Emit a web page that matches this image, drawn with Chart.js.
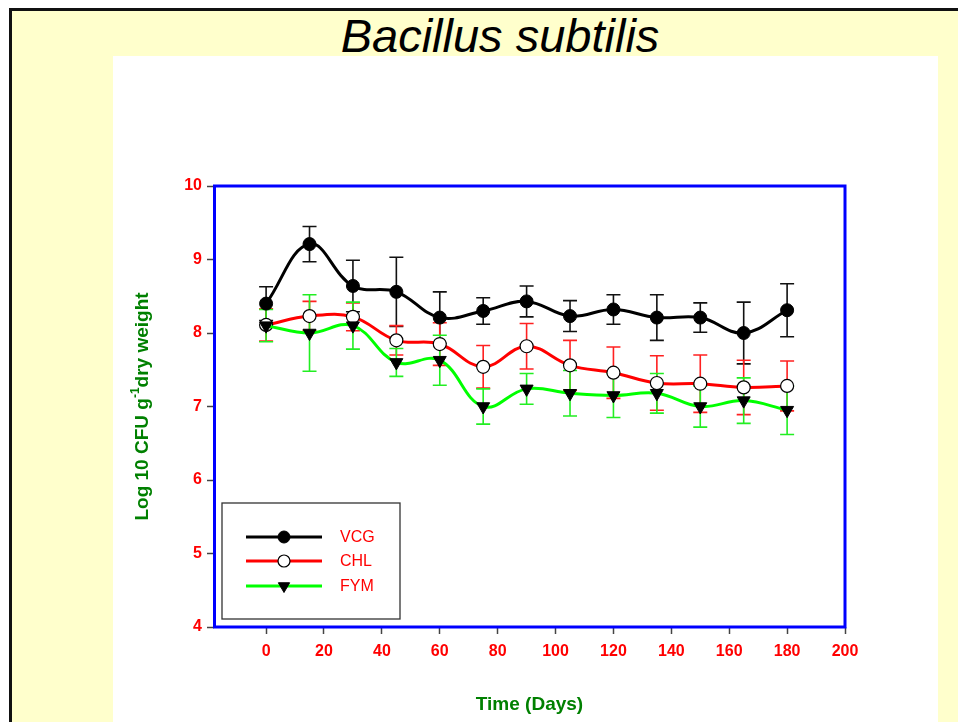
<!DOCTYPE html>
<html>
<head>
<meta charset="utf-8">
<script src="https://cdn.jsdelivr.net/npm/chart.js@4/dist/chart.umd.min.js"></script>
<style>
  html, body { margin: 0; padding: 0; background: #ffffff; }
  #page { position: absolute; left: 0; top: 0; width: 958px; height: 722px; overflow: hidden; background: #ffffff; }
  #frame { position: absolute; left: 9px; top: 8px; width: 960px; height: 730px; background: #FFFFCC; border-left: 3px solid #111; border-top: 3px solid #111; }
  #panel { position: absolute; left: 113px; top: 56px; width: 825px; height: 680px; background: #ffffff; }
  #title { position: absolute; left: 250px; top: 12px; width: 500px; text-align: center; font: italic 47px/47px "Liberation Sans", Arial, sans-serif; color: #000; white-space: nowrap; }
  #c { position: absolute; left: 0; top: 0; }
</style>
</head>
<body>
<div id="page">
  <div id="frame"></div>
  <div id="panel"></div>
  <div id="title">Bacillus subtilis</div>
  <canvas id="c" width="958" height="722"></canvas>
</div>
<script>
// ---- data ----
const days = [0, 15, 30, 45, 60, 75, 90, 105, 120, 135, 150, 165, 180];
const vcg = [8.40, 9.21, 8.64, 8.56, 8.21, 8.30, 8.43, 8.23, 8.32, 8.21, 8.21, 8.00, 8.31];
const vcgErr = [0.23, 0.24, 0.35, 0.47, 0.35, 0.18, 0.21, 0.21, 0.20, 0.31, 0.20, 0.42, 0.36];
const chl = [8.11, 8.23, 8.22, 7.90, 7.85, 7.54, 7.82, 7.56, 7.46, 7.32, 7.31, 7.26, 7.28];
const chlErr = [0.22, 0.20, 0.19, 0.20, 0.29, 0.29, 0.31, 0.34, 0.35, 0.37, 0.39, 0.37, 0.34];
const fym = [8.10, 8.00, 8.10, 7.60, 7.63, 7.00, 7.24, 7.18, 7.15, 7.18, 7.00, 7.08, 6.95];
const fymErr = [0.22, 0.52, 0.32, 0.19, 0.34, 0.24, 0.21, 0.31, 0.30, 0.27, 0.28, 0.31, 0.33];
const seriesNames = ['VCG', 'CHL', 'FYM'];
const xTicks = [0, 20, 40, 60, 80, 100, 120, 140, 160, 180, 200];
const yTicks = [4, 5, 6, 7, 8, 9, 10];
const xTitle = 'Time (Days)';
const yTitleParts = ['Log 10 CFU g', '-1', 'dry weight'];

const FONT = '"Liberation Sans", Arial, sans-serif';
const colors = ['#000000', '#FF0000', '#00FF00'];
const errColors = ['#111111', '#FF2020', '#22EE22'];

const toPts = (ys) => days.map((d, i) => ({ x: d, y: ys[i] }));

const errorBars = {
  id: 'errorBars',
  beforeDatasetsDraw(chart) {
    const { ctx, scales: { x, y } } = chart;
    const errs = [vcgErr, chlErr, fymErr];
    const vals = [vcg, chl, fym];
    ctx.save();
    ctx.lineWidth = 1.6;
    for (let s = 0; s < 3; s++) {
      ctx.strokeStyle = errColors[s];
      for (let i = 0; i < days.length; i++) {
        const px = x.getPixelForValue(days[i]);
        const top = y.getPixelForValue(vals[s][i] + errs[s][i]);
        const bot = y.getPixelForValue(vals[s][i] - errs[s][i]);
        ctx.beginPath();
        ctx.moveTo(px, top); ctx.lineTo(px, bot);
        ctx.moveTo(px - 7, top); ctx.lineTo(px + 7, top);
        ctx.moveTo(px - 7, bot); ctx.lineTo(px + 7, bot);
        ctx.stroke();
      }
    }
    ctx.restore();
  }
};

const frameBox = {
  id: 'frameBox',
  afterDatasetsDraw(chart) {
    const { ctx, chartArea: a } = chart;
    ctx.save();
    ctx.strokeStyle = '#0000FF';
    ctx.lineWidth = 3;
    ctx.strokeRect(a.left + 0.5, a.top, a.right - a.left - 0.5, a.bottom - a.top);
    ctx.restore();
  }
};

const titles = {
  id: 'titles',
  afterDraw(chart) {
    const { ctx, chartArea: a } = chart;
    ctx.save();
    ctx.fillStyle = '#008000';
    ctx.font = 'bold 19px ' + FONT;
    ctx.textAlign = 'center';
    ctx.textBaseline = 'middle';
    ctx.fillText(xTitle, (a.left + a.right) / 2, 705);
    const big = 'bold 19px ' + FONT, small = 'bold 12px ' + FONT;
    ctx.font = big; const w1 = ctx.measureText(yTitleParts[0]).width; const w3 = ctx.measureText(yTitleParts[2]).width;
    ctx.font = small; const w2 = ctx.measureText(yTitleParts[1]).width;
    const total = w1 + w2 + w3;
    ctx.translate(140, (a.top + a.bottom) / 2);
    ctx.rotate(-Math.PI / 2);
    ctx.textAlign = 'left';
    ctx.textBaseline = 'alphabetic';
    let xx = -total / 2;
    ctx.font = big; ctx.fillText(yTitleParts[0], xx, 7.5); xx += w1;
    ctx.font = small; ctx.fillText(yTitleParts[1], xx, -1.5); xx += w2;
    ctx.font = big; ctx.fillText(yTitleParts[2], xx, 7.5);
    ctx.restore();
  }
};

const legendBox = {
  id: 'legendBox',
  afterDraw(chart) {
    const { ctx, chartArea: a } = chart;
    const left = a.left + 8, bottom = a.bottom - 8, w = 178, h = 116;
    const top = bottom - h;
    ctx.save();
    ctx.fillStyle = '#ffffff';
    ctx.fillRect(left, top, w, h);
    ctx.strokeStyle = '#333333';
    ctx.lineWidth = 1.3;
    ctx.strokeRect(left, top, w, h);
    const rows = [top + 34, top + 58, top + 83];
    chart.data.datasets.forEach((ds, i) => {
      const yy = rows[i];
      ctx.strokeStyle = ds.borderColor;
      ctx.lineWidth = 3;
      ctx.beginPath(); ctx.moveTo(left + 24, yy); ctx.lineTo(left + 100, yy); ctx.stroke();
      ctx.fillStyle = ds.pointBackgroundColor;
      ctx.strokeStyle = ds.pointBorderColor;
      ctx.lineWidth = ds.pointBorderWidth;
      ctx.beginPath();
      const cx = left + 62;
      if (ds.pointStyle === 'circle') {
        ctx.arc(cx, yy, 6, 0, Math.PI * 2);
      } else {
        const r = 6.5;
        ctx.moveTo(cx - r * 0.87, yy - r * 0.5);
        ctx.lineTo(cx + r * 0.87, yy - r * 0.5);
        ctx.lineTo(cx, yy + r);
        ctx.closePath();
      }
      ctx.fill(); ctx.stroke();
      ctx.fillStyle = '#FF0000';
      ctx.font = '16px ' + FONT;
      ctx.textAlign = 'left';
      ctx.textBaseline = 'middle';
      ctx.fillText(seriesNames[i], left + 118, yy + 1);
    });
    ctx.restore();
  }
};

const tickFont = { family: FONT, size: 16, weight: 'bold' };

new Chart(document.getElementById('c'), {
  type: 'line',
  data: {
    datasets: [
      { label: seriesNames[0], data: toPts(vcg), borderColor: colors[0], borderWidth: 3, tension: 0.4,
        pointStyle: 'circle', pointRadius: 6.5, pointBackgroundColor: '#000000', pointBorderColor: '#000000', pointBorderWidth: 1, order: 0 },
      { label: seriesNames[1], data: toPts(chl), borderColor: colors[1], borderWidth: 3, tension: 0.4,
        pointStyle: 'circle', pointRadius: 6.5, pointBackgroundColor: '#ffffff', pointBorderColor: '#000000', pointBorderWidth: 1.2, order: 2 },
      { label: seriesNames[2], data: toPts(fym), borderColor: colors[2], borderWidth: 3, tension: 0.4,
        pointStyle: 'triangle', rotation: 180, pointRadius: 7.5, pointBackgroundColor: '#000000', pointBorderColor: '#000000', pointBorderWidth: 1, order: 1 }
    ]
  },
  options: {
    responsive: false,
    animation: false,
    devicePixelRatio: 1,
    layout: { padding: { left: 114, right: 113, top: 186, bottom: 0 } },
    plugins: { legend: { display: false }, tooltip: { enabled: false }, title: { display: false } },
    scales: {
      x: {
        type: 'linear', min: -18, max: 200,
        afterBuildTicks: (s) => { s.ticks = xTicks.map(v => ({ value: v })); },
        afterFit: (s) => { s.height = 95; },
        grid: { drawOnChartArea: false, drawTicks: true, tickLength: 7, tickColor: '#444444', tickWidth: 1.5 },
        border: { display: false },
        ticks: { color: '#FF0000', font: tickFont, padding: 8, maxRotation: 0, autoSkip: false }
      },
      y: {
        type: 'linear', min: 4, max: 10,
        afterBuildTicks: (s) => { s.ticks = yTicks.map(v => ({ value: v })); },
        afterFit: (s) => { s.width = 100; },
        grid: { drawOnChartArea: false, drawTicks: true, tickLength: 7, tickColor: '#444444', tickWidth: 1.5 },
        border: { display: false },
        ticks: { color: '#FF0000', font: tickFont, padding: 5, autoSkip: false }
      }
    }
  },
  plugins: [errorBars, frameBox, titles, legendBox]
});
</script>
</body>
</html>
